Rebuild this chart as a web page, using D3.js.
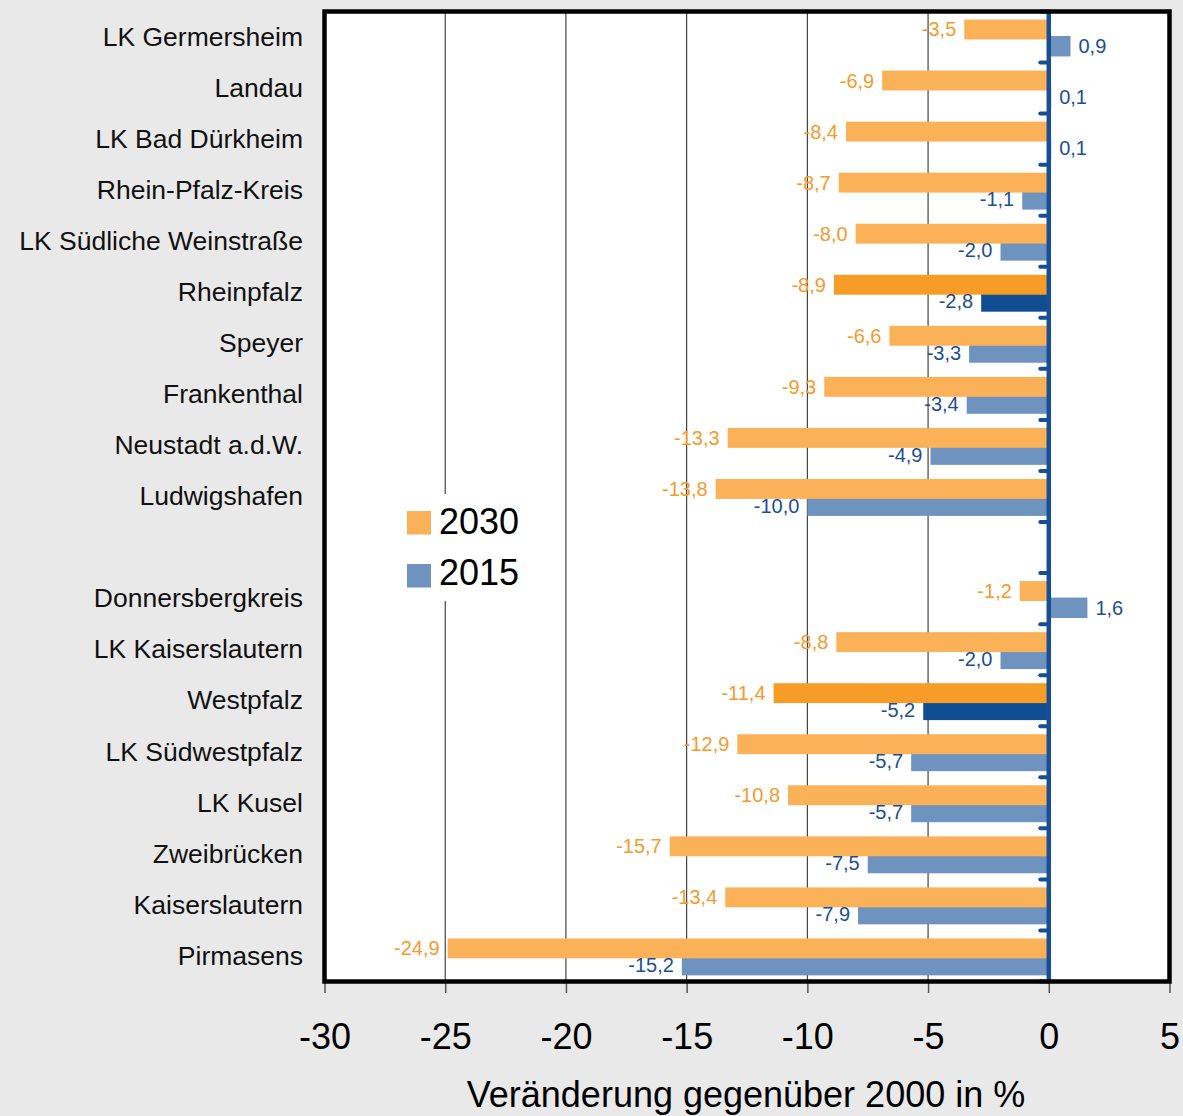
<!DOCTYPE html>
<html>
<head>
<meta charset="utf-8">
<script src="https://cdn.jsdelivr.net/npm/d3@7"></script>
<style>
  html, body { margin: 0; padding: 0; background: #e9e9e9; }
  svg { display: block; font-family: "Liberation Sans", Arial, sans-serif; }
</style>
</head>
<body>
<svg id="chart" width="1183" height="1116"></svg>
<script>
// Regions (an empty slot separates Vorderpfalz from Westpfalz)
const categories = [
  "LK Germersheim", "Landau", "LK Bad Dürkheim", "Rhein-Pfalz-Kreis",
  "LK Südliche Weinstraße", "Rheinpfalz", "Speyer", "Frankenthal",
  "Neustadt a.d.W.", "Ludwigshafen", "",
  "Donnersbergkreis", "LK Kaiserslautern", "Westpfalz", "LK Südwestpfalz",
  "LK Kusel", "Zweibrücken", "Kaiserslautern", "Pirmasens"
];
// Change versus 2000 in %
const values2030 = [-3.5, -6.9, -8.4, -8.7, -8.0, -8.9, -6.6, -9.3, -13.3, -13.8, null,
                    -1.2, -8.8, -11.4, -12.9, -10.8, -15.7, -13.4, -24.9];
const values2015 = [0.9, 0.1, 0.1, -1.1, -2.0, -2.8, -3.3, -3.4, -4.9, -10.0, null,
                    1.6, -2.0, -5.2, -5.7, -5.7, -7.5, -7.9, -15.2];
// Aggregate regions drawn in stronger colours
const highlighted = ["Rheinpfalz", "Westpfalz"];
const xTicks = [-30, -25, -20, -15, -10, -5, 0, 5];
const seriesNames = ["2030", "2015"];

const colors = {
  o: "#fab158", oDark: "#f79d27", oText: "#f79a2c",
  b: "#6f93bf", bDark: "#114e91", bText: "#1b4f93",
  zero: "#184e94"
};

const de = d3.formatLocale({decimal: ",", thousands: ".", grouping: [3], currency: ["", " €"], minus: "-"});
const fmt = de.format(".1f");
const fmtTick = de.format("d");

const svg = d3.select("#chart");
const plot = {left: 324.5, right: 1169.5, top: 11.5, bottom: 981.5};

const x = d3.scaleLinear().domain([-30, 5]).range([plot.left, plot.right]);
const y = d3.scaleBand().domain(categories).range([plot.top, plot.bottom]).padding(0);
const bw = y.bandwidth();

const rows = categories.map((c, i) => ({
  cat: c, v30: values2030[i], v15: values2015[i], hi: highlighted.includes(c)
})).filter(d => d.cat !== "");

// plot background
svg.append("rect")
  .attr("x", plot.left).attr("y", plot.top)
  .attr("width", plot.right - plot.left).attr("height", plot.bottom - plot.top)
  .attr("fill", "#fff");

// vertical gridlines
svg.append("g").selectAll("line")
  .data(xTicks.filter(t => t > -30 && t < 0))
  .join("line")
  .attr("x1", d => x(d)).attr("x2", d => x(d))
  .attr("y1", plot.top).attr("y2", plot.bottom)
  .attr("stroke", "#333").attr("stroke-width", 1.1);

// legend (white box over the grid)
const lg = svg.append("g");
lg.append("rect").attr("x", 396).attr("y", 494).attr("width", 134).attr("height", 107).attr("fill", "#fff");
seriesNames.forEach((s, i) => {
  lg.append("rect").attr("x", 407).attr("y", 511 + i * 53).attr("width", 24).attr("height", 23.5)
    .attr("fill", i === 0 ? colors.o : colors.b);
  lg.append("text").attr("x", 439).attr("y", 534 + i * 51)
    .attr("font-size", 36).attr("fill", "#000").text(s);
});

const oOff = bw * 0.157, oH = bw * 0.39;
const bOff = bw * 0.48, bH = bw * 0.40;

// 2015 bars (below the 2030 bars)
svg.append("g").selectAll("rect")
  .data(rows)
  .join("rect")
  .attr("x", d => x(Math.min(0, d.v15)))
  .attr("width", d => Math.abs(x(d.v15) - x(0)))
  .attr("y", d => y(d.cat) + bOff)
  .attr("height", bH)
  .attr("fill", d => d.hi ? colors.bDark : colors.b);

// 2030 bars
svg.append("g").selectAll("rect")
  .data(rows)
  .join("rect")
  .attr("x", d => x(Math.min(0, d.v30)))
  .attr("width", d => Math.abs(x(d.v30) - x(0)))
  .attr("y", d => y(d.cat) + oOff)
  .attr("height", oH)
  .attr("fill", d => d.hi ? colors.oDark : colors.o);

// value labels
function labels(key, off, h, color) {
  svg.append("g").selectAll("text")
    .data(rows)
    .join("text")
    .attr("x", d => d[key] < 0 ? x(d[key]) - 8 : x(d[key]) + 8)
    .attr("y", d => y(d.cat) + off + h / 2)
    .attr("dy", "0.35em")
    .attr("text-anchor", d => d[key] < 0 ? "end" : "start")
    .attr("font-size", 20)
    .attr("fill", color)
    .text(d => fmt(d[key]));
}
labels("v30", oOff, oH, colors.oText);
labels("v15", bOff, bH, colors.bText);

// zero line with category separators
const zg = svg.append("g");
zg.append("line")
  .attr("x1", x(0)).attr("x2", x(0))
  .attr("y1", plot.top - 1).attr("y2", plot.bottom + 1.5)
  .attr("stroke", colors.zero).attr("stroke-width", 4.5);
zg.selectAll("line.sep")
  .data(d3.range(categories.length + 1))
  .join("line").attr("class", "sep")
  .attr("x1", x(0) - 8.5).attr("x2", x(0))
  .attr("y1", i => plot.top + i * bw).attr("y2", i => plot.top + i * bw)
  .attr("stroke", colors.zero).attr("stroke-width", 4).attr("stroke-linecap", "round");

// category labels
svg.append("g").selectAll("text")
  .data(rows)
  .join("text")
  .attr("x", 303)
  .attr("y", d => y(d.cat) + bw / 2)
  .attr("dy", "0.33em")
  .attr("text-anchor", "end")
  .attr("font-size", 26.5)
  .attr("fill", "#111")
  .text(d => d.cat);

// x axis
const ax = svg.append("g")
  .attr("transform", `translate(0,${plot.bottom})`)
  .call(d3.axisBottom(x).tickValues(xTicks).tickFormat(fmtTick).tickSize(11.5).tickPadding(30));
ax.select(".domain").remove();
ax.selectAll(".tick line").attr("stroke", "#555").attr("stroke-width", 1.5);
ax.selectAll(".tick text").attr("font-size", 36).attr("fill", "#000")
  .attr("font-family", "'Liberation Sans', Arial, sans-serif");

// frame
svg.append("rect")
  .attr("x", plot.left).attr("y", plot.top)
  .attr("width", plot.right - plot.left).attr("height", plot.bottom - plot.top)
  .attr("fill", "none").attr("stroke", "#000").attr("stroke-width", 4.5);

// axis title
svg.append("text")
  .attr("x", (plot.left + plot.right) / 2 - 1)
  .attr("y", 1107)
  .attr("text-anchor", "middle")
  .attr("font-size", 36)
  .attr("fill", "#000")
  .text("Veränderung gegenüber 2000 in %");
</script>
</body>
</html>
